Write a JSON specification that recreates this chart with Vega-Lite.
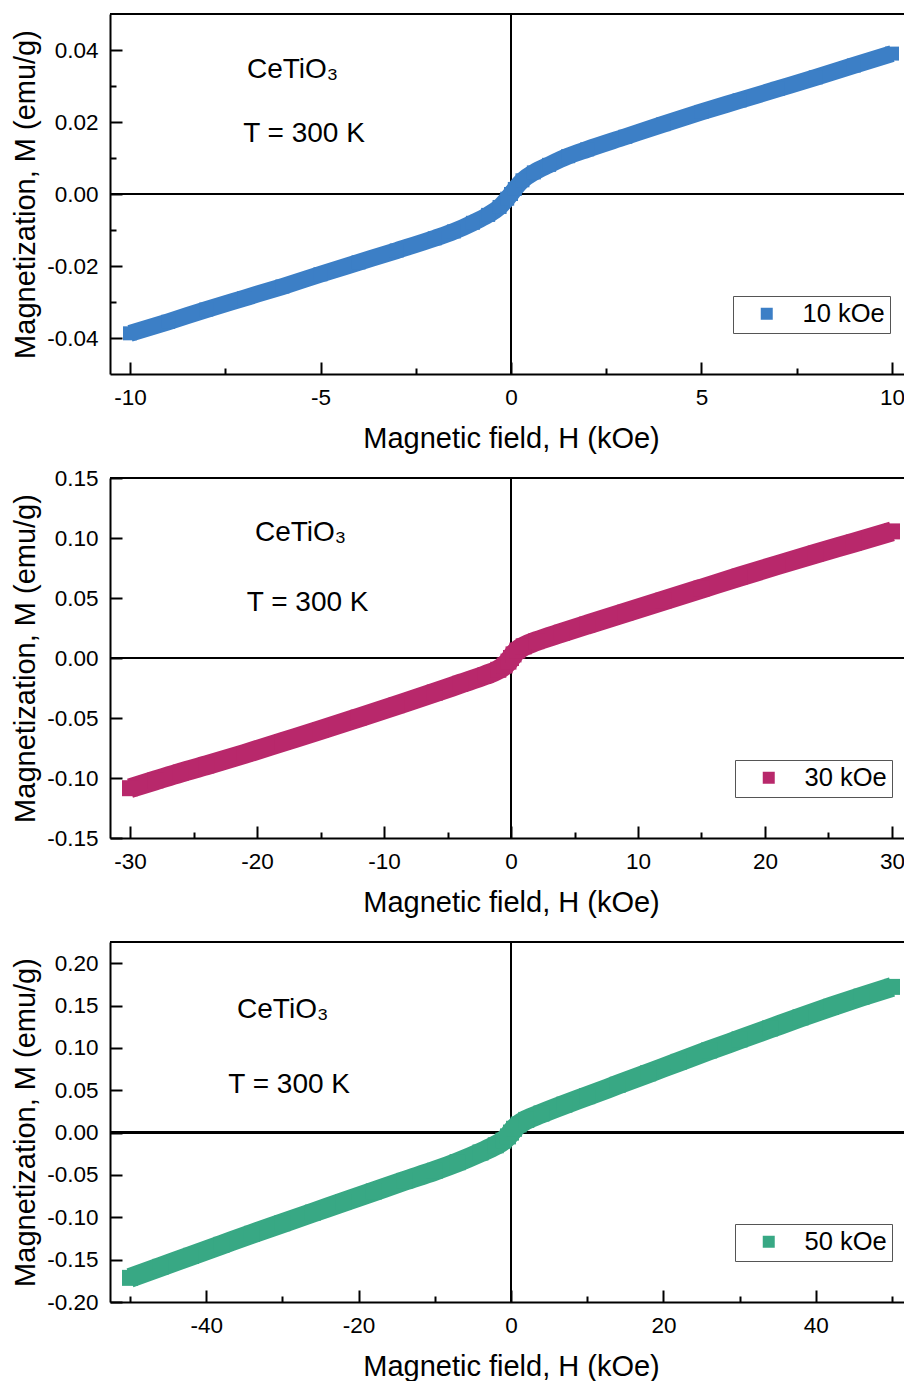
{
  "$schema": "https://vega.github.io/schema/vega-lite/v6.json",
  "background": "white",
  "padding": {"left": 10, "top": 13, "right": 0, "bottom": 0},
  "spacing": 104,
  "bounds": "flush",
  "config": {
    "view": {"stroke": null},
    "font": "Liberation Sans",
    "axis": {
      "domainColor": "black", "domainWidth": 2, "tickColor": "black", "tickWidth": 2,
      "labelFont": "Liberation Sans", "labelFontSize": 22.5, "labelColor": "black",
      "titleFont": "Liberation Sans", "titleFontSize": 29, "titleFontWeight": "normal", "titleColor": "black",
      "grid": false, "labelFlush": false, "labelOverlap": false, "labelPadding": 24
    },
    "axisX": {"titleY": 64, "titleBaseline": "middle", "titleX": 401, "titleAlign": "center"},
    "axisY": {"titleX": -85, "titleBaseline": "middle", "titleAlign": "center"},
    "legend": {
      "orient": "none", "title": null, "symbolType": "square", "symbolSize": 144,
      "symbolOffset": 16, "labelOffset": 23, "labelFontSize": 25.5, "labelFont": "Liberation Sans",
      "labelColor": "black", "padding": 5, "strokeColor": "#555555", "fillColor": "white",
      "symbolStrokeWidth": 0, "symbolOpacity": 1, "labelLimit": 0
    },
    "text": {"font": "Liberation Sans", "fontSize": 28, "color": "black", "align": "left", "baseline": "middle"}
  },
  "resolve": {"scale": {"color": "independent"}, "legend": {"color": "independent"}},
  "vconcat": [
    {
      "width": 794, "height": 360,
      "data": {"values": [
        {"H": -10, "M": -0.0387, "series": "10 kOe"},
        {"H": -9, "M": -0.0355, "series": "10 kOe"},
        {"H": -8, "M": -0.0321, "series": "10 kOe"},
        {"H": -7, "M": -0.0289, "series": "10 kOe"},
        {"H": -6, "M": -0.0257, "series": "10 kOe"},
        {"H": -5, "M": -0.0223, "series": "10 kOe"},
        {"H": -4, "M": -0.0190, "series": "10 kOe"},
        {"H": -3, "M": -0.0157, "series": "10 kOe"},
        {"H": -2, "M": -0.0123, "series": "10 kOe"},
        {"H": -1.5, "M": -0.0104, "series": "10 kOe"},
        {"H": -1, "M": -0.0080, "series": "10 kOe"},
        {"H": -0.6, "M": -0.0058, "series": "10 kOe"},
        {"H": -0.3, "M": -0.0036, "series": "10 kOe"},
        {"H": -0.1, "M": -0.0013, "series": "10 kOe"},
        {"H": 0, "M": 0.0, "series": "10 kOe"},
        {"H": 0.1, "M": 0.0014, "series": "10 kOe"},
        {"H": 0.3, "M": 0.0038, "series": "10 kOe"},
        {"H": 0.6, "M": 0.0060, "series": "10 kOe"},
        {"H": 1, "M": 0.0081, "series": "10 kOe"},
        {"H": 1.5, "M": 0.0105, "series": "10 kOe"},
        {"H": 2, "M": 0.0124, "series": "10 kOe"},
        {"H": 3, "M": 0.0159, "series": "10 kOe"},
        {"H": 4, "M": 0.0194, "series": "10 kOe"},
        {"H": 5, "M": 0.0228, "series": "10 kOe"},
        {"H": 6, "M": 0.0260, "series": "10 kOe"},
        {"H": 7, "M": 0.0292, "series": "10 kOe"},
        {"H": 8, "M": 0.0324, "series": "10 kOe"},
        {"H": 9, "M": 0.0357, "series": "10 kOe"},
        {"H": 10, "M": 0.0390, "series": "10 kOe"}
      ]},
      "layer": [
        {"mark": {"type": "rule", "color": "black", "strokeWidth": 2}, "encoding": {"x": {"datum": 0, "type": "quantitative"}}},
        {"mark": {"type": "rule", "color": "black", "strokeWidth": 2}, "encoding": {"y": {"datum": 0, "type": "quantitative"}}},
        {"mark": {"type": "rule", "color": "black", "strokeWidth": 2}, "encoding": {"y": {"datum": 0.05, "type": "quantitative"}}},
        {
          "mark": {"type": "line", "color": "#3c7fc6", "strokeWidth": 17, "interpolate": "monotone", "strokeCap": "butt"},
          "encoding": {
            "x": {"field": "H", "type": "quantitative", "scale": {"domain": [-10.525, 10.315], "nice": false, "zero": false},
              "axis": {"title": "Magnetic field, H (kOe)", "values": [-10, -7.5, -5, -2.5, 0, 2.5, 5, 7.5, 10],
                "labelExpr": "datum.value % 5 === 0 ? datum.value + '' : ''",
                "tickSize": {"condition": {"test": "datum.value % 5 === 0", "value": -12}, "value": -6}}},
            "y": {"field": "M", "type": "quantitative", "scale": {"domain": [-0.05, 0.05], "nice": false, "zero": false},
              "axis": {"title": "Magnetization, M (emu/g)", "values": [-0.04, -0.03, -0.02, -0.01, 0, 0.01, 0.02, 0.03, 0.04],
                "labelExpr": "abs(round(datum.value*100)) % 2 === 0 ? replace(format(datum.value, '.2f'), '\u2212', '-') : ''",
                "tickSize": {"condition": {"test": "abs(round(datum.value*100)) % 2 === 0", "value": -12}, "value": -6}}}
          }
        },
        {
          "mark": {"type": "point", "shape": "square", "filled": true, "size": 196, "opacity": 1},
          "encoding": {
            "x": {"field": "H", "type": "quantitative"},
            "y": {"field": "M", "type": "quantitative"},
            "color": {"field": "series", "type": "nominal", "scale": {"range": ["#3c7fc6"]}, "legend": {"legendX": 623, "legendY": 282}}
          }
        },
        {
          "data": {"values": [
            {"H": -6.93, "M": 0.0345, "label": "CeTiO\u2083"},
            {"H": -7.03, "M": 0.0167, "label": "T = 300 K"}
          ]},
          "mark": {"type": "text"},
          "encoding": {
            "x": {"field": "H", "type": "quantitative"},
            "y": {"field": "M", "type": "quantitative"},
            "text": {"field": "label"}
          }
        }
      ]
    },
    {
      "width": 794, "height": 360,
      "data": {"values": [
        {"H": -30, "M": -0.1085, "series": "30 kOe"},
        {"H": -28, "M": -0.1020, "series": "30 kOe"},
        {"H": -26, "M": -0.0955, "series": "30 kOe"},
        {"H": -24, "M": -0.0895, "series": "30 kOe"},
        {"H": -21, "M": -0.0800, "series": "30 kOe"},
        {"H": -18, "M": -0.0700, "series": "30 kOe"},
        {"H": -15, "M": -0.0600, "series": "30 kOe"},
        {"H": -12, "M": -0.0497, "series": "30 kOe"},
        {"H": -9, "M": -0.0393, "series": "30 kOe"},
        {"H": -6, "M": -0.0288, "series": "30 kOe"},
        {"H": -4, "M": -0.0215, "series": "30 kOe"},
        {"H": -2, "M": -0.0142, "series": "30 kOe"},
        {"H": -1, "M": -0.0098, "series": "30 kOe"},
        {"H": -0.5, "M": -0.0062, "series": "30 kOe"},
        {"H": -0.2, "M": -0.0030, "series": "30 kOe"},
        {"H": 0, "M": 0.0, "series": "30 kOe"},
        {"H": 0.2, "M": 0.0030, "series": "30 kOe"},
        {"H": 0.5, "M": 0.0062, "series": "30 kOe"},
        {"H": 1, "M": 0.0097, "series": "30 kOe"},
        {"H": 2, "M": 0.0140, "series": "30 kOe"},
        {"H": 4, "M": 0.0210, "series": "30 kOe"},
        {"H": 6, "M": 0.0278, "series": "30 kOe"},
        {"H": 9, "M": 0.0378, "series": "30 kOe"},
        {"H": 12, "M": 0.0478, "series": "30 kOe"},
        {"H": 15, "M": 0.0578, "series": "30 kOe"},
        {"H": 18, "M": 0.0678, "series": "30 kOe"},
        {"H": 21, "M": 0.0775, "series": "30 kOe"},
        {"H": 24, "M": 0.0870, "series": "30 kOe"},
        {"H": 27, "M": 0.0962, "series": "30 kOe"},
        {"H": 30, "M": 0.1055, "series": "30 kOe"}
      ]},
      "layer": [
        {"mark": {"type": "rule", "color": "black", "strokeWidth": 2}, "encoding": {"x": {"datum": 0, "type": "quantitative"}}},
        {"mark": {"type": "rule", "color": "black", "strokeWidth": 2}, "encoding": {"y": {"datum": 0, "type": "quantitative"}}},
        {"mark": {"type": "rule", "color": "black", "strokeWidth": 2}, "encoding": {"y": {"datum": 0.15, "type": "quantitative"}}},
        {
          "mark": {"type": "line", "color": "#b8286b", "strokeWidth": 20, "interpolate": "monotone", "strokeCap": "butt"},
          "encoding": {
            "x": {"field": "H", "type": "quantitative", "scale": {"domain": [-31.575, 30.945], "nice": false, "zero": false},
              "axis": {"title": "Magnetic field, H (kOe)", "values": [-30, -25, -20, -15, -10, -5, 0, 5, 10, 15, 20, 25, 30],
                "labelExpr": "datum.value % 10 === 0 ? datum.value + '' : ''",
                "tickSize": {"condition": {"test": "datum.value % 10 === 0", "value": -12}, "value": -6}}},
            "y": {"field": "M", "type": "quantitative", "scale": {"domain": [-0.15, 0.15], "nice": false, "zero": false},
              "axis": {"title": "Magnetization, M (emu/g)", "values": [-0.15, -0.125, -0.1, -0.075, -0.05, -0.025, 0, 0.025, 0.05, 0.075, 0.1, 0.125, 0.15],
                "labelExpr": "abs(round(datum.value*1000)) % 50 === 0 ? replace(format(datum.value, '.2f'), '\u2212', '-') : ''",
                "tickSize": {"condition": {"test": "abs(round(datum.value*1000)) % 50 === 0", "value": -12}, "value": -6}}}
          }
        },
        {
          "mark": {"type": "point", "shape": "square", "filled": true, "size": 256, "opacity": 1},
          "encoding": {
            "x": {"field": "H", "type": "quantitative"},
            "y": {"field": "M", "type": "quantitative"},
            "color": {"field": "series", "type": "nominal", "scale": {"range": ["#b8286b"]}, "legend": {"legendX": 625, "legendY": 282}}
          }
        },
        {
          "data": {"values": [
            {"H": -20.16, "M": 0.1043, "label": "CeTiO\u2083"},
            {"H": -20.8, "M": 0.0459, "label": "T = 300 K"}
          ]},
          "mark": {"type": "text"},
          "encoding": {
            "x": {"field": "H", "type": "quantitative"},
            "y": {"field": "M", "type": "quantitative"},
            "text": {"field": "label"}
          }
        }
      ]
    },
    {
      "width": 794, "height": 360,
      "data": {"values": [
        {"H": -50, "M": -0.1715, "series": "50 kOe"},
        {"H": -46, "M": -0.1585, "series": "50 kOe"},
        {"H": -42, "M": -0.1455, "series": "50 kOe"},
        {"H": -38, "M": -0.1325, "series": "50 kOe"},
        {"H": -34, "M": -0.1195, "series": "50 kOe"},
        {"H": -30, "M": -0.1070, "series": "50 kOe"},
        {"H": -26, "M": -0.0945, "series": "50 kOe"},
        {"H": -22, "M": -0.0820, "series": "50 kOe"},
        {"H": -18, "M": -0.0695, "series": "50 kOe"},
        {"H": -14, "M": -0.0570, "series": "50 kOe"},
        {"H": -10, "M": -0.0450, "series": "50 kOe"},
        {"H": -7, "M": -0.0350, "series": "50 kOe"},
        {"H": -4, "M": -0.0235, "series": "50 kOe"},
        {"H": -2, "M": -0.0150, "series": "50 kOe"},
        {"H": -1, "M": -0.0095, "series": "50 kOe"},
        {"H": -0.4, "M": -0.0045, "series": "50 kOe"},
        {"H": 0, "M": 0.0, "series": "50 kOe"},
        {"H": 0.4, "M": 0.0045, "series": "50 kOe"},
        {"H": 1, "M": 0.0095, "series": "50 kOe"},
        {"H": 2, "M": 0.0150, "series": "50 kOe"},
        {"H": 4, "M": 0.0225, "series": "50 kOe"},
        {"H": 7, "M": 0.0330, "series": "50 kOe"},
        {"H": 10, "M": 0.0430, "series": "50 kOe"},
        {"H": 14, "M": 0.0565, "series": "50 kOe"},
        {"H": 18, "M": 0.0700, "series": "50 kOe"},
        {"H": 22, "M": 0.0835, "series": "50 kOe"},
        {"H": 26, "M": 0.0970, "series": "50 kOe"},
        {"H": 30, "M": 0.1100, "series": "50 kOe"},
        {"H": 34, "M": 0.1230, "series": "50 kOe"},
        {"H": 38, "M": 0.1360, "series": "50 kOe"},
        {"H": 42, "M": 0.1485, "series": "50 kOe"},
        {"H": 46, "M": 0.1605, "series": "50 kOe"},
        {"H": 50, "M": 0.1720, "series": "50 kOe"}
      ]},
      "layer": [
        {"mark": {"type": "rule", "color": "black", "strokeWidth": 2}, "encoding": {"x": {"datum": 0, "type": "quantitative"}}},
        {"mark": {"type": "rule", "color": "black", "strokeWidth": 2}, "encoding": {"y": {"datum": 0, "type": "quantitative"}}},
        {"mark": {"type": "rule", "color": "black", "strokeWidth": 2}, "encoding": {"y": {"datum": 0.225, "type": "quantitative"}}},
        {
          "mark": {"type": "line", "color": "#38a884", "strokeWidth": 20, "interpolate": "monotone", "strokeCap": "butt"},
          "encoding": {
            "x": {"field": "H", "type": "quantitative", "scale": {"domain": [-52.625, 51.575], "nice": false, "zero": false},
              "axis": {"title": "Magnetic field, H (kOe)", "values": [-50, -40, -30, -20, -10, 0, 10, 20, 30, 40, 50],
                "labelExpr": "datum.value % 20 === 0 ? datum.value + '' : ''",
                "tickSize": {"condition": {"test": "datum.value % 20 === 0", "value": -12}, "value": -6}}},
            "y": {"field": "M", "type": "quantitative", "scale": {"domain": [-0.2, 0.225], "nice": false, "zero": false},
              "axis": {"title": "Magnetization, M (emu/g)", "values": [-0.2, -0.175, -0.15, -0.125, -0.1, -0.075, -0.05, -0.025, 0, 0.025, 0.05, 0.075, 0.1, 0.125, 0.15, 0.175, 0.2],
                "labelExpr": "abs(round(datum.value*1000)) % 50 === 0 ? replace(format(datum.value, '.2f'), '\u2212', '-') : ''",
                "tickSize": {"condition": {"test": "abs(round(datum.value*1000)) % 50 === 0", "value": -12}, "value": -6}}}
          }
        },
        {
          "mark": {"type": "point", "shape": "square", "filled": true, "size": 256, "opacity": 1},
          "encoding": {
            "x": {"field": "H", "type": "quantitative"},
            "y": {"field": "M", "type": "quantitative"},
            "color": {"field": "series", "type": "nominal", "scale": {"range": ["#38a884"]}, "legend": {"legendX": 625, "legendY": 282}}
          }
        },
        {
          "data": {"values": [
            {"H": -35.95, "M": 0.1444, "label": "CeTiO\u2083"},
            {"H": -37.1, "M": 0.0556, "label": "T = 300 K"}
          ]},
          "mark": {"type": "text"},
          "encoding": {
            "x": {"field": "H", "type": "quantitative"},
            "y": {"field": "M", "type": "quantitative"},
            "text": {"field": "label"}
          }
        }
      ]
    }
  ]
}
